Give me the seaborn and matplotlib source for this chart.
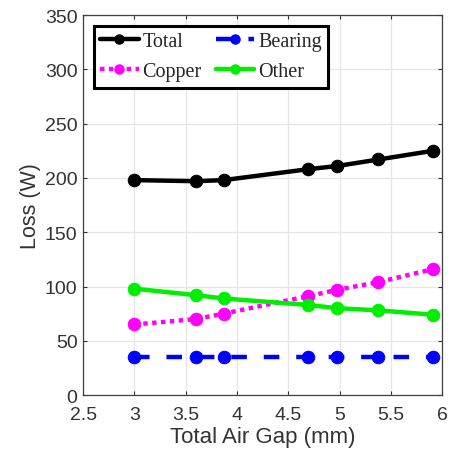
import matplotlib
matplotlib.use("Agg")
import matplotlib.pyplot as plt
import seaborn as sns
import pandas as pd

gap = [3.0, 3.6, 3.87, 4.69, 4.98, 5.38, 5.91]
total = [198, 197, 198, 208, 211, 217, 225]
bearing = [35, 35, 35, 35, 35, 35, 35]
copper = [65, 70, 75, 91, 97, 104, 116]
other = [98, 92, 89, 83, 80, 78, 74]

series_names = ["Total", "Bearing", "Copper", "Other"]
series_vals = [total, bearing, copper, other]
colors = ["black", "blue", "magenta", "#00ee00"]
dashes = [None, (3.5, 3.8), (1, 1), None]

sns.set_theme(style="whitegrid")
plt.rcParams['font.family'] = ['Liberation Sans', 'DejaVu Sans']

fig = plt.figure(figsize=(4.52, 4.60), dpi=100)
ax = fig.add_axes([0.184, 0.139, 0.794, 0.826])

for name, vals, c, d in zip(series_names, series_vals, colors, dashes):
    df = pd.DataFrame({"gap": gap, "loss": vals})
    kw = {}
    if d is not None:
        kw["dashes"] = d
    sns.lineplot(data=df, x="gap", y="loss", ax=ax, color=c, lw=3.2,
                 marker="o", markersize=9, markeredgecolor=c,
                 label=name, **kw)

ax.set_xlim(2.5, 6)
ax.set_ylim(0, 350)
ax.set_xticks([2.5, 3, 3.5, 4, 4.5, 5, 5.5, 6])
ax.set_xticklabels(["2.5", "3", "3.5", "4", "4.5", "5", "5.5", "6"])
ax.set_yticks(range(0, 351, 50))
ax.set_xlabel("Total Air Gap (mm)", fontsize=16, color="#333333", labelpad=2)
ax.set_ylabel("Loss (W)", fontsize=15.5, color="#333333", labelpad=3)
ax.tick_params(axis="both", labelsize=14, colors="#333333", direction="in",
               length=3, width=0.8, top=True, right=True, bottom=True, left=True)
ax.tick_params(axis="x", pad=8)
ax.tick_params(axis="y", pad=4)
ax.grid(True, color="#e6e6e6", lw=0.9)
for s in ax.spines.values():
    s.set_visible(True)
    s.set_color("#404040")
    s.set_linewidth(0.9)

handles, labels = ax.get_legend_handles_labels()
order = [0, 2, 1, 3]
leg = ax.legend([handles[i] for i in order], [labels[i] for i in order],
                loc="upper left", ncol=2, prop={"family": "Liberation Serif", "size": 14.5},
                frameon=True, fancybox=False, edgecolor="black", framealpha=1,
                handlelength=1.9, handletextpad=0.2, columnspacing=0.7,
                borderpad=0.3, labelspacing=0.55, borderaxespad=0.55, markerscale=0.75)
leg.get_frame().set_linewidth(2.2)

fig.savefig("out.png", dpi=100)
